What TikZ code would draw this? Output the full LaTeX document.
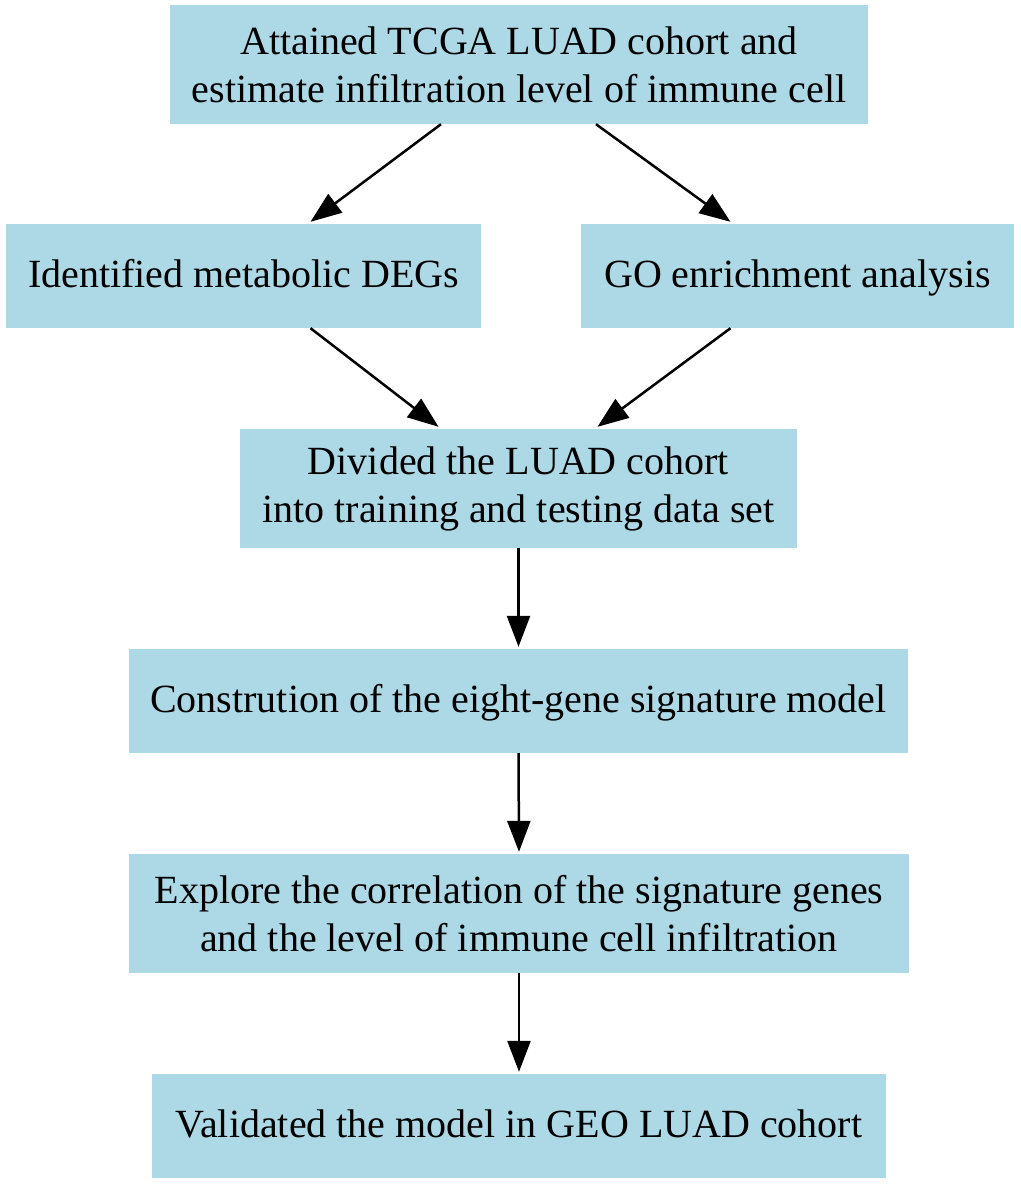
\documentclass[tikz,border=0pt]{standalone}
\usepackage{fontspec}
\setmainfont{Liberation Serif}
\usetikzlibrary{arrows.meta}
\definecolor{boxblue}{HTML}{ADD8E6}
\begin{document}
\begin{tikzpicture}[x=1pt,y=-1pt,
  box/.style={fill=boxblue,draw=none,inner sep=0pt,align=center,font=\fontsize{40}{48}\selectfont},
  single/.style={box,minimum height=104pt,text height=29pt,text depth=7pt},
  double/.style={box,minimum height=119pt},
  arr/.style={line width=2.5pt,-{Triangle[length=31pt,width=23pt]}}]
\useasboundingbox (0,0) rectangle (1020,1185);
\node[double,minimum width=698pt] (top) at (519,64.5) {Attained TCGA LUAD cohort and\\estimate infiltration level of immune cell};
\node[single,minimum width=475pt] (left) at (243.5,276) {Identified metabolic DEGs};
\node[single,minimum width=433pt] (right) at (797.5,276) {GO enrichment analysis};
\node[double,minimum width=557pt] (div) at (518.5,488.5) {Divided the LUAD cohort\\into training and testing data set};
\node[single,minimum width=779pt] (con) at (518.5,701) {Constrution of the eight-gene signature model};
\node[double,minimum width=780pt] (exp) at (519,913.5) {Explore the correlation of the signature genes\\and the level of immune cell infiltration};
\node[single,minimum width=734pt] (val) at (519,1126) {Validated the model in GEO LUAD cohort};
\draw[arr] ([xshift=-78pt]top.south) -- ([xshift=67pt,yshift=2pt]left.north);
\draw[arr] ([xshift=77pt]top.south) -- ([xshift=-67pt,yshift=2pt]right.north);
\draw[arr] ([xshift=67pt]left.south) -- ([xshift=-80pt,yshift=2pt]div.north);
\draw[arr] ([xshift=-67pt]right.south) -- ([xshift=79pt,yshift=2pt]div.north);
\draw[arr] (div.south) -- ([yshift=2pt]con.north);
\draw[arr] (con.south) -- ([yshift=2pt]exp.north);
\draw[arr] (exp.south) -- ([yshift=2pt]val.north);
\end{tikzpicture}
\end{document}
